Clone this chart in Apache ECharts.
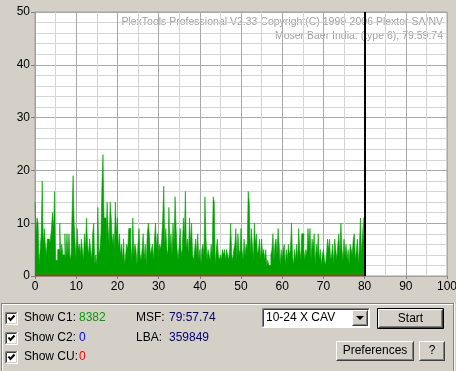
<!DOCTYPE html>
<html>
<head>
<meta charset="utf-8">
<script src="https://cdn.jsdelivr.net/npm/echarts@6/dist/echarts.min.js"></script>
<style>
html,body{margin:0;padding:0;background:#D4D0C8;}
#chart{width:456px;height:371px;}
</style>
</head>
<body>
<div id="chart"></div>
<script>
// ---- data ----
const sampleStep = 0.25; // position units per sample (0..80)
const c1Values = [
  14, 8, 11, 10, 2, 5, 8, 18, 6, 9,
  6, 4, 7, 7, 6, 7, 9, 12, 9, 16,
  3, 3, 5, 5, 10, 4, 6, 4, 4, 8,
  3, 8, 4, 8, 3, 4, 12, 19, 10, 6,
  3, 9, 5, 6, 4, 7, 5, 3, 8, 5,
  11, 6, 4, 7, 5, 3, 8, 10, 2, 4,
  2, 13, 4, 5, 8, 17, 23, 11, 11, 6,
  14, 9, 6, 14, 11, 6, 8, 5, 14, 8,
  11, 5, 8, 4, 6, 3, 7, 2, 4, 6,
  5, 9, 9, 6, 3, 11, 4, 6, 5, 2,
  6, 9, 4, 3, 5, 8, 3, 6, 2, 8,
  10, 8, 4, 5, 6, 3, 7, 10, 5, 8,
  4, 6, 5, 7, 11, 17, 6, 9, 5, 4,
  13, 5, 8, 4, 10, 6, 15, 9, 5, 3,
  6, 9, 4, 5, 11, 7, 16, 5, 7, 4,
  11, 6, 10, 4, 3, 5, 7, 4, 8, 3,
  5, 2, 5, 6, 4, 15, 7, 3, 5, 4,
  3, 6, 4, 15, 14, 2, 5, 7, 4, 3,
  4, 3, 5, 4, 5, 3, 5, 4, 3, 5,
  10, 4, 3, 5, 6, 9, 3, 8, 5, 4,
  9, 5, 3, 7, 4, 6, 5, 16, 14, 4,
  9, 6, 3, 10, 6, 8, 4, 5, 7, 3,
  7, 4, 5, 3, 5, 2, 3, 2, 2, 4,
  5, 8, 3, 6, 7, 4, 9, 6, 2, 5,
  3, 5, 6, 2, 5, 3, 6, 4, 5, 10,
  4, 2, 5, 3, 6, 3, 9, 5, 3, 8,
  8, 5, 3, 5, 4, 9, 6, 9, 3, 7,
  5, 8, 2, 6, 4, 8, 3, 5, 2, 4,
  5, 3, 2, 4, 7, 5, 7, 3, 4, 6,
  2, 7, 5, 3, 6, 8, 4, 10, 5, 3,
  7, 4, 6, 3, 5, 2, 6, 5, 4, 7,
  8, 3, 5, 7, 2, 6, 11, 4, 8, 11
];
const c2Line = [[0, 0], [80, 0]];
const scanEnd = 80;
const xTicks = [0, 10, 20, 30, 40, 50, 60, 70, 80, 90, 100];
const yTicks = [0, 10, 20, 30, 40, 50];
const titleLines = [
  'PlexTools Professional V2.33 Copyright(C) 1999-2006 Plextor SA/NV',
  'Moser Baer India. (type 6), 79:59:74'
];
const counters = [
  { label: 'Show C1:', value: '8382', color: '#00A000' },
  { label: 'Show C2:', value: '0', color: '#0000FF' },
  { label: 'Show CU:', value: '0', color: '#FF0000' }
];
const infoRows = [
  { label: 'MSF:', value: '79:57.74' },
  { label: 'LBA:', value: '359849' }
];
const speedText = '10-24 X CAV';

// ---- build ----
const c1Data = [[0, c1Values[0]]].concat(c1Values.map((v, i) => [(i + 1) * sampleStep, v]));
const FONT = '"Liberation Sans", Arial, sans-serif';
const BG = '#D4D0C8';

function line(x1, y1, x2, y2, color, w) {
  return { type: 'line', shape: { x1, y1, x2, y2 }, style: { stroke: color, lineWidth: w || 1 }, silent: true };
}
function text(x, y, t, color, align, size) {
  return { type: 'text', x, y, style: { text: t, fill: color, font: (size || 11) + 'px ' + FONT, textAlign: align || 'left', textVerticalAlign: 'middle' }, silent: true };
}
function raised(x, y, w, h) {
  const r = x + w - 0.5, b = y + h - 0.5, l = x + 0.5, t = y + 0.5;
  return [
    { type: 'rect', shape: { x, y, width: w, height: h }, style: { fill: BG }, silent: true },
    line(l, t, r, t, '#FFFFFF'), line(l, t, l, b, '#FFFFFF'),
    line(l, b, r + 0.5, b, '#404040'), line(r, t, r, b, '#404040'),
    line(l + 1, b - 1, r - 1, b - 1, '#808080'), line(r - 1, t + 1, r - 1, b - 1, '#808080')
  ];
}
function button(x, y, w, h, label, isDefault) {
  let els = [];
  if (isDefault) {
    els.push({ type: 'rect', shape: { x: x + 0.5, y: y + 0.5, width: w - 1, height: h - 1 }, style: { fill: BG, stroke: '#000', lineWidth: 1 }, silent: true });
    els = els.concat(raised(x + 1, y + 1, w - 2, h - 2));
  } else {
    els = els.concat(raised(x, y, w, h));
  }
  els.push(text(x + w / 2, y + h / 2, label, '#000', 'center', 12));
  return els;
}
function checkbox(x, y) {
  return [
    { type: 'rect', shape: { x, y, width: 13, height: 13 }, style: { fill: '#FFFFFF' }, silent: true },
    line(x + 0.5, y + 0.5, x + 12.5, y + 0.5, '#808080'), line(x + 0.5, y + 0.5, x + 0.5, y + 12.5, '#808080'),
    line(x + 1.5, y + 1.5, x + 11.5, y + 1.5, '#404040'), line(x + 1.5, y + 1.5, x + 1.5, y + 11.5, '#404040'),
    line(x + 0.5, y + 12.5, x + 13, y + 12.5, '#FFFFFF'), line(x + 12.5, y, x + 12.5, y + 13, '#FFFFFF'),
    line(x + 1.5, y + 11.5, x + 12, y + 11.5, BG), line(x + 11.5, y + 1, x + 11.5, y + 12, BG),
    { type: 'polyline', shape: { points: [[x + 3.5, y + 5.5], [x + 5.5, y + 8], [x + 9.5, y + 3.5]] }, style: { stroke: '#000', lineWidth: 2, fill: null }, silent: true }
  ];
}

let g = [];
g.push(text(443, 22, titleLines[0], '#A0A0A0', 'right', 10.5));
g.push(text(443, 36, titleLines[1], '#A0A0A0', 'right', 10.5));
g.push(line(1, 303.5, 455, 303.5, '#808080'));
g.push(line(2, 304.5, 454, 304.5, '#FFFFFF'));
g.push(line(1.5, 303, 1.5, 371, '#808080'));
g.push(line(2.5, 304, 2.5, 371, '#FFFFFF'));
g.push(line(453.5, 304, 453.5, 371, '#808080'));
g.push(line(454.5, 303, 454.5, 371, '#FFFFFF'));
const rowY = [318, 338, 357];
counters.forEach((c, i) => {
  g = g.concat(checkbox(5, rowY[i] - 6));
  g.push(text(24, rowY[i], c.label, '#000', 'left', 12));
  g.push(text(79, rowY[i], c.value, c.color, 'left', 12));
});
infoRows.forEach((r, i) => {
  g.push(text(136, rowY[i], r.label, '#000', 'left', 12));
  g.push(text(169, rowY[i], r.value, '#000080', 'left', 12));
});
g.push({ type: 'rect', shape: { x: 262, y: 308, width: 108, height: 20 }, style: { fill: '#FFFFFF' }, silent: true });
g.push(line(262.5, 308.5, 369.5, 308.5, '#808080'));
g.push(line(262.5, 308.5, 262.5, 327.5, '#808080'));
g.push(line(263.5, 309.5, 368.5, 309.5, '#404040'));
g.push(line(263.5, 309.5, 263.5, 326.5, '#404040'));
g.push(line(262, 327.5, 370, 327.5, '#FFFFFF'));
g.push(line(369.5, 308, 369.5, 328, '#FFFFFF'));
g.push(text(266, 318, speedText, '#000', 'left', 12));
g = g.concat(raised(352, 310, 16, 16));
g.push({ type: 'polygon', shape: { points: [[356, 316], [364, 316], [360, 320]] }, style: { fill: '#000' }, silent: true });
g = g.concat(button(377, 308, 67, 21, 'Start', true));
g = g.concat(button(336, 341, 78, 20, 'Preferences', false));
g = g.concat(button(419, 341, 26, 20, '?', false));

const option = {
  backgroundColor: BG,
  animation: false,
  grid: { left: 35, right: 9, top: 12, bottom: 95, show: true, backgroundColor: '#FFFFFF', borderColor: '#A0A0A0', borderWidth: 1, containLabel: false, outerBoundsMode: 'none' },
  xAxis: {
    type: 'value', min: xTicks[0], max: xTicks[xTicks.length - 1], interval: 10,
    axisLine: { show: true, lineStyle: { color: '#A0A0A0' } },
    axisTick: { show: true, length: 3, lineStyle: { color: '#808080' } },
    axisLabel: { color: '#000', fontSize: 12, fontFamily: FONT, margin: 5, showMaxLabel: true, hideOverlap: false },
    splitLine: { show: true, lineStyle: { color: '#A8A8A8', width: 1 } },
    minorTick: { show: false, splitNumber: 2 },
    minorSplitLine: { show: true, lineStyle: { color: '#D4D4D4', width: 1 } }
  },
  yAxis: {
    type: 'value', min: yTicks[0], max: yTicks[yTicks.length - 1], interval: 10,
    axisLine: { show: true, lineStyle: { color: '#A0A0A0' } },
    axisTick: { show: true, length: 4, lineStyle: { color: '#808080' } },
    axisLabel: { color: '#000', fontSize: 12, fontFamily: FONT, margin: 5 },
    splitLine: { show: true, lineStyle: { color: '#A8A8A8', width: 1 } },
    minorTick: { show: false, splitNumber: 5 },
    minorSplitLine: { show: true, lineStyle: { color: '#D4D4D4', width: 1 } }
  },
  series: [
    {
      name: 'C1', type: 'line', data: c1Data, step: 'start', symbol: 'none', silent: true,
      lineStyle: { color: '#00A000', width: 0.6 },
      areaStyle: { color: '#00A000', opacity: 1 },
      markLine: {
        silent: true, symbol: 'none', label: { show: false },
        lineStyle: { color: '#000', width: 2, type: 'solid' },
        data: [{ xAxis: scanEnd }]
      }
    },
    {
      name: 'C2', type: 'line', data: c2Line, symbol: 'none', silent: true,
      lineStyle: { color: '#FF0000', width: 1 }
    }
  ],
  graphic: g
};
const chart = echarts.init(document.getElementById('chart'), null, { renderer: 'canvas' });
chart.setOption(option);
</script>
</body>
</html>
